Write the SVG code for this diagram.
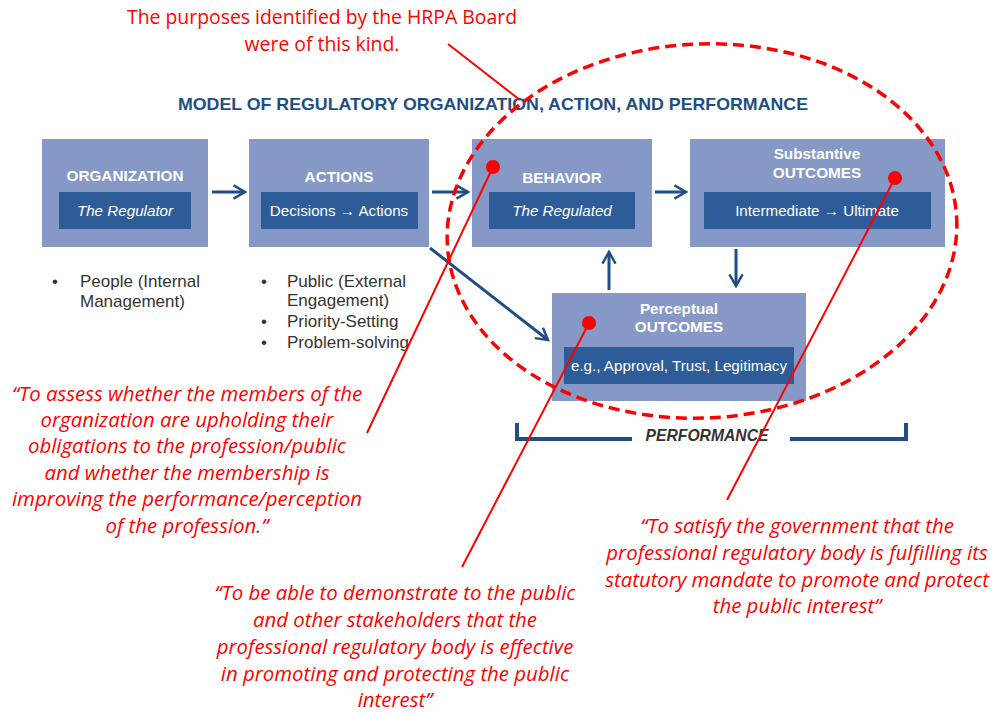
<svg xmlns="http://www.w3.org/2000/svg" width="995" height="713" viewBox="0 0 995 713">
<defs>
<style>
.box{fill:#8598c6}
.inner{fill:#2d5c99}
.t{font-family:"Liberation Sans",Arial,sans-serif;fill:#fff;text-anchor:middle}
.hd{font-weight:bold;font-size:15.3px}
.in{font-size:15.2px}
.conn{stroke:#1f4e82;stroke-width:3;fill:none}
.bul{font-family:"Liberation Sans",Arial,sans-serif;font-size:17px;fill:#333}
.red{font-family:"Open Sans","Liberation Sans",sans-serif;fill:#ff0000;text-anchor:middle}
.q{font-style:italic;font-size:20.4px}
.rl{stroke:#ff0000;stroke-width:2;fill:none}
</style>
<marker id="ah" viewBox="0 0 10 10" refX="8" refY="5" markerWidth="5.5" markerHeight="5.5" orient="auto" markerUnits="strokeWidth">
<path d="M1,1 L8,5 L1,9" fill="none" stroke="#1f4e82" stroke-width="1.5"/>
</marker>
</defs>
<rect width="995" height="713" fill="#fff"/>

<text x="493" y="110" font-family="'Liberation Sans',Arial,sans-serif" font-weight="bold" font-size="17" fill="#1f4e82" text-anchor="middle" textLength="630" lengthAdjust="spacingAndGlyphs">MODEL OF REGULATORY ORGANIZATION, ACTION, AND PERFORMANCE</text>

<g id="organization">
<rect class="box" x="42" y="139" width="166" height="108"/>
<rect class="inner" x="59" y="192" width="132" height="37"/>
<text class="t hd" x="125" y="181">ORGANIZATION</text>
<text class="t in" x="125" y="216" font-style="italic">The Regulator</text>
</g>
<g id="actions">
<rect class="box" x="249" y="139" width="180" height="108"/>
<rect class="inner" x="261" y="192" width="157" height="37"/>
<text class="t hd" x="339" y="182">ACTIONS</text>
<text class="t in" x="339" y="216">Decisions → Actions</text>
</g>
<g id="behavior">
<rect class="box" x="472" y="139" width="180" height="108"/>
<rect class="inner" x="489" y="192" width="146" height="37"/>
<text class="t hd" x="562" y="183">BEHAVIOR</text>
<text class="t in" x="562" y="216" font-style="italic">The Regulated</text>
</g>
<g id="substantive">
<rect class="box" x="690" y="139" width="255" height="108"/>
<rect class="inner" x="704" y="192" width="227" height="37"/>
<text class="t hd" x="817" y="159" font-size="14.3">Substantive</text>
<text class="t hd" x="817" y="178">OUTCOMES</text>
<text class="t in" x="817" y="216">Intermediate → Ultimate</text>
</g>
<g id="perceptual">
<rect class="box" x="552" y="293" width="254" height="108"/>
<rect class="inner" x="564" y="347" width="230" height="37"/>
<text class="t hd" x="679" y="314" font-size="14.3">Perceptual</text>
<text class="t hd" x="679" y="332">OUTCOMES</text>
<text class="t in" x="679" y="371">e.g., Approval, Trust, Legitimacy</text>
</g>

<g id="bullets">
<text class="bul" x="52" y="287">•</text>
<text class="bul" x="80" y="287">People (Internal</text>
<text class="bul" x="80" y="307">Management)</text>
<text class="bul" x="261" y="287">•</text>
<text class="bul" x="287" y="287">Public (External</text>
<text class="bul" x="287" y="306">Engagement)</text>
<text class="bul" x="261" y="327">•</text>
<text class="bul" x="287" y="327">Priority-Setting</text>
<text class="bul" x="261" y="348">•</text>
<text class="bul" x="287" y="348">Problem-solving</text>
</g>

<g id="connectors">
<line class="conn" x1="212" y1="192" x2="245" y2="192" marker-end="url(#ah)"/>
<line class="conn" x1="432" y1="192" x2="468" y2="192" marker-end="url(#ah)"/>
<line class="conn" x1="655" y1="192" x2="686" y2="192" marker-end="url(#ah)"/>
<line class="conn" x1="736" y1="249" x2="736" y2="286" marker-end="url(#ah)"/>
<line class="conn" x1="609" y1="290" x2="609" y2="252" marker-end="url(#ah)"/>
<line class="conn" x1="430" y1="248" x2="548" y2="340" marker-end="url(#ah)"/>
</g>

<g id="performance">
<path d="M517,423 V439 H632 M790,439 H906 V423" fill="none" stroke="#1f4e82" stroke-width="4"/>
<text x="707" y="441" font-family="'Liberation Sans',Arial,sans-serif" font-weight="bold" font-style="italic" font-size="15.7" fill="#333" text-anchor="middle">PERFORMANCE</text>
</g>

<g id="annotations">
<ellipse cx="702" cy="231" rx="255" ry="187" fill="none" stroke="#ff0000" stroke-width="3.5" stroke-dasharray="11,6" transform="rotate(-3 702 231)"/>
<line class="rl" x1="448" y1="44" x2="520" y2="100"/>
<line class="rl" x1="493" y1="167" x2="367" y2="433"/>
<line class="rl" x1="589" y1="323" x2="462" y2="567"/>
<line class="rl" x1="895" y1="178" x2="727" y2="500"/>
<circle cx="493" cy="167" r="7" fill="#ff0000"/>
<circle cx="589" cy="323" r="7" fill="#ff0000"/>
<circle cx="895" cy="178" r="7" fill="#ff0000"/>

<text class="red" font-size="19.4" x="322" y="24">The purposes identified by the HRPA Board</text>
<text class="red" font-size="19.4" x="322" y="51">were of this kind.</text>

<text class="red q" x="187" y="401">“To assess whether the members of the</text>
<text class="red q" x="187" y="427">organization are upholding their</text>
<text class="red q" x="187" y="453">obligations to the profession/public</text>
<text class="red q" x="187" y="480">and whether the membership is</text>
<text class="red q" x="187" y="506">improving the performance/perception</text>
<text class="red q" x="187" y="533">of the profession.”</text>

<text class="red q" x="395" y="600">“To be able to demonstrate to the public</text>
<text class="red q" x="395" y="627">and other stakeholders that the</text>
<text class="red q" x="395" y="654">professional regulatory body is effective</text>
<text class="red q" x="395" y="681">in promoting and protecting the public</text>
<text class="red q" x="395" y="707">interest”</text>

<text class="red q" x="797" y="533">“To satisfy the government that the</text>
<text class="red q" x="797" y="560">professional regulatory body is fulfilling its</text>
<text class="red q" x="797" y="587">statutory mandate to promote and protect</text>
<text class="red q" x="797" y="613">the public interest”</text>
</g>
</svg>
